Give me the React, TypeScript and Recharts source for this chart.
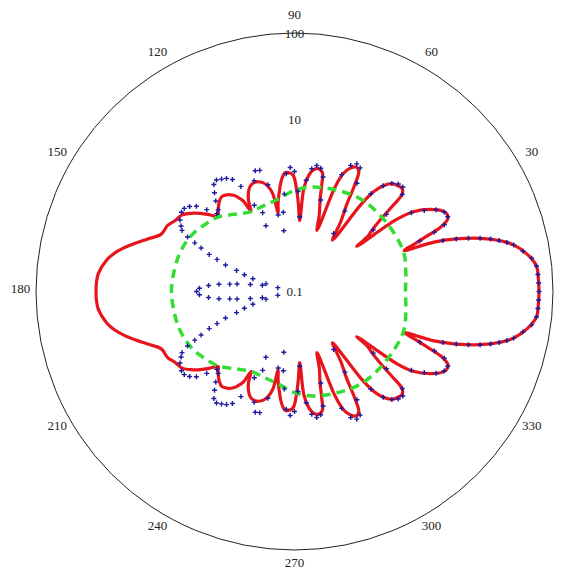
import React from 'react';
import { RadarChart, Radar, PolarAngleAxis, PolarRadiusAxis } from 'recharts';

// polar plot, log radial axis 0.1 .. 100, angle 0 at east, counter-clockwise
const angleTicks = [0, 30, 60, 90, 120, 150, 180, 210, 240, 270, 300, 330];
const radiusTicks = [0.1, 10, 100];

const redAngles = [
  0, 3, 6, 9, 12, 14, 16, 18, 19.5, 20.5, 21.5, 22.4, 23.8, 25.5, 27, 28.4, 31.2, 33.9, 35.2, 35.9,
  37, 38.2, 39.9, 41.1, 42.1, 43.8, 45.5, 47.5, 49.6, 51.5, 52.6, 53.5, 56.5, 59, 60.5, 61.8, 63.5, 65.8, 67.5, 68.8,
  69.8, 72, 74.4, 75.8, 76.8, 79, 81.2, 83, 84.8, 85.8, 87.5, 89, 90.6, 92.5, 94.6, 96.5, 98, 100.5, 101.8, 102.5,
  104, 106, 109, 111, 113, 115, 116.8, 118.5, 119.5, 121, 122.4, 125, 127.5, 130, 131.9, 134, 135.5, 138, 140.4, 142.3,
  145.7, 149.4, 152.5, 156.7, 160.3, 163, 165.8, 168, 170.5, 174.7, 177.5, 180,
  182.5, 185.3, 189.5, 192, 194.2, 197, 199.7, 203.3, 207.5, 210.6, 214.3, 217.7, 219.6, 222, 224.5, 226, 228.1, 230, 232.5, 235,
  237.6, 239, 240.5, 241.5, 243.2, 245, 247, 249, 251, 254, 256, 257.5, 258.2, 259.5, 262, 263.5, 265.4, 267.5, 269.4, 271,
  272.5, 274.2, 275.2, 277, 278.8, 281, 283.2, 284.2, 285.6, 288, 290.2, 291.2, 292.5, 294.2, 296.5, 298.2, 299.5, 301, 303.5, 306.5,
  307.4, 308.5, 310.4, 312.5, 314.5, 316.2, 317.9, 318.9, 320.1, 321.8, 323, 324.1, 324.8, 326.1, 328.8, 331.6, 333, 334.5, 336.2, 337.6,
  338.5, 339.5, 340.5, 342, 344, 346, 348, 351, 354, 357,
];
const redGain = [
  68.8, 68.2, 66.6, 54.8, 39.8, 28.1, 17.4, 9.4, 5.22, 2.28, 3.06, 4.1, 7.19, 9.4, 9.65, 9.15, 6.91, 4.57, 2.82, 0.78,
  1.17, 1.37, 1.99, 3.23, 4.82, 5.36, 5.22, 4.95, 4.21, 3.06, 1.89, 0.55, 0.94, 1.49, 2.61, 3.79, 4.1, 3.69, 3.06, 1.99,
  0.57, 0.85, 1.27, 1.99, 2.61, 2.82, 2.68, 2.28, 1.61, 0.67, 1.05, 1.61, 2.22, 2.4, 2.4, 2.05, 1.65, 1.11, 0.85, 1.45,
  1.79, 2.05, 2.22, 2.22, 2.1, 1.84, 1.53, 1.14, 1.61, 1.89, 2.1, 2.34, 2.44, 2.28, 2.1, 1.89, 1.74, 2.16, 2.65, 3.06,
  3.79, 4.1, 4.57, 4.82, 6.46, 8.44, 11.2, 13.7, 16.2, 19.3, 20.0, 20.1,
  20.0, 19.3, 16.2, 13.7, 11.2, 8.44, 6.46, 4.82, 4.57, 4.1, 3.79, 3.06, 2.65, 2.16, 1.74, 1.89, 2.1, 2.28, 2.44, 2.34,
  2.1, 1.89, 1.61, 1.14, 1.53, 1.84, 2.1, 2.22, 2.22, 2.05, 1.79, 1.45, 0.85, 1.11, 1.65, 2.05, 2.4, 2.4, 2.22, 1.61,
  1.05, 0.67, 1.61, 2.28, 2.68, 2.82, 2.61, 1.99, 1.27, 0.85, 0.57, 1.99, 3.06, 3.69, 4.1, 3.79, 2.61, 1.49, 0.94, 0.55,
  1.89, 3.06, 4.21, 4.95, 5.22, 5.36, 4.82, 3.23, 1.99, 1.37, 1.17, 0.78, 2.82, 4.57, 6.91, 9.15, 9.65, 9.4, 7.19, 4.1,
  3.06, 2.28, 5.22, 9.4, 17.4, 28.1, 39.8, 54.8, 66.6, 68.2,
];

const blueAngles = [
  0, 2, 4, 6, 8, 10, 12, 13, 14, 15, 16, 17, 18, 19, 22, 23, 24, 26, 28, 30,
  32, 34, 38, 40, 42, 44, 46, 48, 50, 52, 56, 58, 60, 62, 64, 66, 68, 74, 76, 78,
  80, 82, 84, 86, 88, 90, 92, 94, 96, 98, 100, 102, 104, 106, 108, 110, 112, 113.5, 115, 117,
  119, 121, 123, 125, 127, 129, 131, 133, 135, 137, 139, 141, 143, 145, 148, 150, 151.5, 153, 154, 155,
  156.5, 157.5, 159, 160, 161.5, 163, 165, 167, 169, 171, 172.5, 173.5, 174.5, 176, 178, 180,
  182, 184, 185.5, 186.5, 187.5, 189, 191, 193, 195, 197, 198.5, 200, 201, 202.5, 203.5, 205, 206, 207, 208.5, 210,
  212, 215, 217, 219, 221, 223, 225, 227, 229, 231, 233, 235, 237, 239, 241, 243, 245, 246.5, 248, 250,
  252, 254, 256, 258, 260, 262, 264, 266, 268, 270, 272, 274, 276, 278, 280, 282, 284, 286, 292, 294,
  296, 298, 300, 302, 304, 308, 310, 312, 314, 316, 318, 320, 322, 326, 328, 330, 332, 334, 336, 337,
  338, 341, 342, 343, 344, 345, 346, 347, 348, 350, 352, 354, 356, 358,
];
const blueGain = [
  68.8, 68.4, 67.9, 66.6, 60.2, 49.3, 39.8, 33.9, 28.1, 22.7, 17.4, 12.9, 9.4, 6.64, 3.69, 5.81, 8.0, 9.52, 9.27, 7.9,
  5.97, 4.33, 1.45, 2.47, 4.82, 5.58, 5.43, 4.88, 4.0, 2.75, 0.65, 1.27, 2.82, 4.21, 4.45, 4.0, 2.9, 1.27, 2.34, 2.9,
  3.06, 2.75, 1.99, 0.74, 1.45, 2.47, 2.75, 2.34, 1.37, 0.85, 0.52, 0.81, 1.89, 2.9, 2.98, 2.34, 0.97, 0.68, 1.27, 2.34,
  3.06, 3.4, 3.59, 3.79, 3.59, 2.98, 2.47, 1.99, 1.89, 2.47, 3.23, 3.69, 4.0, 4.0, 3.69, 3.31, 3.06, 2.47, 1.94, 1.57,
  1.2, 0.94, 0.72, 0.52, 0.41, 0.32, 0.22, 0.158, 0.24, 0.33, 0.47, 0.57, 0.76, 1.0, 1.27, 1.37,
  1.27, 1.0, 0.76, 0.57, 0.47, 0.33, 0.24, 0.158, 0.22, 0.32, 0.41, 0.52, 0.72, 0.94, 1.2, 1.57, 1.94, 2.47, 3.06, 3.31,
  3.69, 4.0, 4.0, 3.69, 3.23, 2.47, 1.89, 1.99, 2.47, 2.98, 3.59, 3.79, 3.59, 3.4, 3.06, 2.34, 1.27, 0.68, 0.97, 2.34,
  2.98, 2.9, 1.89, 0.81, 0.52, 0.85, 1.37, 2.34, 2.75, 2.47, 1.45, 0.74, 1.99, 2.75, 3.06, 2.9, 2.34, 1.27, 2.9, 4.0,
  4.45, 4.21, 2.82, 1.27, 0.65, 2.75, 4.0, 4.88, 5.43, 5.58, 4.82, 2.47, 1.45, 4.33, 5.97, 7.9, 9.27, 9.52, 8.0, 5.81,
  3.69, 6.64, 9.4, 12.9, 17.4, 22.7, 28.1, 33.9, 39.8, 49.3, 60.2, 66.6, 67.9, 68.4,
];

const greenAngles = [
  0, 10, 20, 36, 53, 67, 80, 90, 100, 110, 119, 128, 136, 142, 149, 155, 162, 170, 180,
  190, 198, 205, 211, 218, 224, 232, 241, 250, 260, 270, 280, 293, 307, 324, 340, 350,
];
const greenGain = [
  1.94, 2.05, 2.22, 2.16, 2.1, 1.89, 1.7, 1.49, 1.23, 1.14, 1.14, 1.37, 1.74, 1.94, 2.22, 2.4, 2.54, 2.61, 2.68,
  2.61, 2.54, 2.4, 2.22, 1.94, 1.74, 1.37, 1.14, 1.14, 1.23, 1.49, 1.7, 1.89, 2.1, 2.16, 2.22, 2.05,
];

const W = 563;
const H = 562;
const CX = 286.5;
const CY = 283.5;
const R = 258.5;

const rows = (angles: number[], gains: number[]) => angles.map((angle, i) => ({ angle, gain: gains[i] }));

// closed centripetal catmull-rom through the points the Radar computed
const smoothPath = (pts: { x: number; y: number }[]) => {
  const n = pts.length;
  if (!n) return '';
  const dist = (a: any, b: any) => Math.hypot(b.x - a.x, b.y - a.y);
  let d = `M${pts[0].x},${pts[0].y}`;
  for (let i = 0; i < n; i++) {
    const p0 = pts[(i - 1 + n) % n];
    const p1 = pts[i];
    const p2 = pts[(i + 1) % n];
    const p3 = pts[(i + 2) % n];
    const l01 = Math.sqrt(dist(p0, p1));
    const l12 = Math.sqrt(dist(p1, p2));
    const l23 = Math.sqrt(dist(p2, p3));
    let c1x = p1.x, c1y = p1.y, c2x = p2.x, c2y = p2.y;
    if (l01 > 1e-6) {
      const a = 2 * l01 * l01 + 3 * l01 * l12 + l12 * l12;
      const m = 3 * l01 * (l01 + l12);
      c1x = (p1.x * a - p0.x * l12 * l12 + p2.x * l01 * l01) / m;
      c1y = (p1.y * a - p0.y * l12 * l12 + p2.y * l01 * l01) / m;
    }
    if (l23 > 1e-6) {
      const b = 2 * l23 * l23 + 3 * l23 * l12 + l12 * l12;
      const m = 3 * l23 * (l23 + l12);
      c2x = (p2.x * b + p1.x * l23 * l23 - p3.x * l12 * l12) / m;
      c2y = (p2.y * b + p1.y * l23 * l23 - p3.y * l12 * l12) / m;
    }
    d += `C${c1x},${c1y},${c2x},${c2y},${p2.x},${p2.y}`;
  }
  return d + 'Z';
};

const smoothShape = (stroke: string, width: number, dash?: string) => (props: any) => (
  <path d={smoothPath(props.points || [])} stroke={stroke} strokeWidth={width}
    strokeDasharray={dash} fill="none" strokeLinejoin="round" />
);

const AngleTick = (props: any) => (
  <text x={props.x} y={props.y - 3} textAnchor="middle" dominantBaseline="central"
    fontFamily="Liberation Serif" fontSize={13} fill="#222">
    {props.payload.value}
  </text>
);

const RadiusTick = (props: any) => (
  <text x={props.x} y={props.y} textAnchor="middle" dominantBaseline="central"
    fontFamily="Liberation Serif" fontSize={13} fill="#222">
    {props.payload.value}
  </text>
);

const Plus = (props: any) => {
  const { cx, cy, index } = props;
  if (cx == null || cy == null) return <g key={`p-${index}`} />;
  return (
    <path key={`p-${index}`} d={`M${cx - 2.5},${cy}h5M${cx},${cy - 2.5}v5`}
      stroke="#1c1ca0" strokeWidth={1.4} fill="none" />
  );
};

const PolarLayer: React.FC<{ data: any[]; axes?: boolean; children?: React.ReactNode }> = ({ data, axes, children }) => (
  <div style={{ position: 'absolute', left: 0, top: 0 }}>
    <RadarChart width={W} height={H} cx={CX} cy={CY} innerRadius={0} outerRadius={R}
      startAngle={0} endAngle={360} data={data} margin={{ top: 0, right: 0, bottom: 0, left: 0 }}>
      <PolarAngleAxis dataKey="angle" type="number" domain={[0, 360]} ticks={angleTicks}
        axisLineType="circle" axisLine={axes ? { stroke: '#222', strokeWidth: 1 } : false}
        tickLine={false} tickSize={15.5} tick={axes ? AngleTick : false} />
      <PolarRadiusAxis type="number" scale="log" domain={[0.1, 100]} ticks={radiusTicks} angle={90}
        allowDataOverflow axisLine={false} tickLine={false} tick={axes ? RadiusTick : false} />
      {children}
    </RadarChart>
  </div>
);

export default function App() {
  return (
    <div style={{ position: 'relative', width: W, height: H, background: '#fff' }}>
      <PolarLayer data={rows(greenAngles, greenGain)} axes />
      <PolarLayer data={rows(redAngles, redGain)}>
        <Radar dataKey="gain" stroke="#e8141c" fill="none" dot={false} isAnimationActive={false}
          shape={smoothShape('#e8141c', 3.2)} />
      </PolarLayer>
      <PolarLayer data={rows(greenAngles, greenGain)}>
        <Radar dataKey="gain" stroke="#33dd33" fill="none" dot={false} isAnimationActive={false}
          shape={smoothShape('#33dd33', 3.5, '9 6')} />
      </PolarLayer>
      <PolarLayer data={rows(blueAngles, blueGain)}>
        <Radar dataKey="gain" stroke="none" fill="none" fillOpacity={0} dot={Plus}
          isAnimationActive={false} />
      </PolarLayer>
    </div>
  );
}
